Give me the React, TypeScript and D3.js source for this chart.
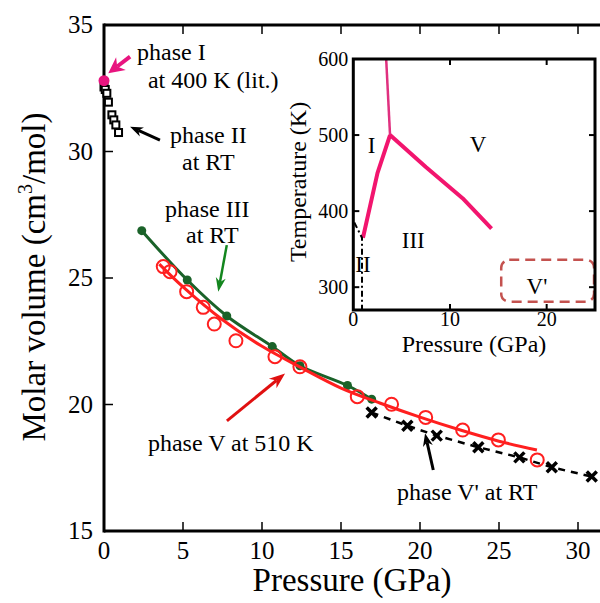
import React from "react";
import * as d3 from "d3";

// phase I (literature, 400 K)
const pressureI = [0];
const volumeI = [32.8];

// phase II at RT
const pressureII = [0.0, 0.08, 0.18, 0.28, 0.5, 0.62, 0.75, 0.92];
const volumeII = [32.55, 32.45, 32.3, 31.95, 31.45, 31.25, 31.05, 30.75];

// phase III at RT
const pressureIII = [2.39, 5.27, 7.77, 10.65, 12.4, 15.41, 16.94];
const volumeIII = [26.87, 24.92, 23.5, 22.29, 21.53, 20.75, 20.21];

// phase V at 510 K (measured + fit)
const pressureV = [3.75, 4.18, 5.23, 6.28, 6.98, 8.35, 10.82, 12.4, 16.03, 18.2, 20.36, 22.7, 24.96, 27.42];
const volumeV = [25.45, 25.25, 24.46, 23.84, 23.18, 22.52, 21.89, 21.49, 20.31, 20.01, 19.49, 18.99, 18.6, 17.81];
const pressureVFit = [3.5, 5, 7.5, 10, 12.5, 15, 17.5, 20, 22.5, 25, 27.4];
const volumeVFit = [25.55, 24.65, 23.35, 22.3, 21.45, 20.65, 20.05, 19.5, 19.0, 18.55, 18.2];

// phase V' at RT
const pressureVp = [16.94, 19.2, 21.06, 23.69, 26.29, 28.34, 30.87];
const volumeVp = [19.68, 19.16, 18.77, 18.31, 17.91, 17.52, 17.15];

const xTicks = [0, 5, 10, 15, 20, 25, 30];
const yTicks = [15, 20, 25, 30, 35];

// inset phase diagram
const insetXTicks = [0, 10, 20];
const insetYTicks = [300, 400, 500, 600];
const boundaryTopP = [3.4, 3.8];
const boundaryTopT = [600, 500];
const boundaryI_IIIP = [1.0, 2.5, 3.8];
const boundaryI_IIIT = [365, 450, 500];
const boundaryV_IIIP = [3.8, 7.5, 11.3, 14.3];
const boundaryV_IIIT = [500, 458, 417, 377];
const boundaryIIP = [0.1, 0.9, 0.9];
const boundaryIIT = [385, 365, 270];
const vPrimeBoxP = [15.3, 24.9];
const vPrimeBoxT = [281, 336];
const regionNames = ["I", "V", "III", "II", "V'"];
const regionP = [1.9, 12.9, 6.2, 1.0, 19.0];
const regionT = [486, 487, 362, 330, 301];

const FONT = "'Liberation Serif', 'DejaVu Serif', serif";

const zip = (a: number[], b: number[]) => a.map((v, i) => [v, b[i]] as [number, number]);

function Arrow({ x1, y1, x2, y2, color, width = 2.5, head = 14, half = 5 }: any) {
  const ang = Math.atan2(y2 - y1, x2 - x1);
  const ux = Math.cos(ang), uy = Math.sin(ang);
  const bx = x2 - ux * head, by = y2 - uy * head;
  const nx = x2 - ux * head * 0.7, ny = y2 - uy * head * 0.7;
  const p1 = [bx - uy * half, by + ux * half];
  const p2 = [bx + uy * half, by - ux * half];
  return (
    <g>
      <line x1={x1} y1={y1} x2={nx} y2={ny} stroke={color} strokeWidth={width} />
      <path d={`M${x2},${y2}L${p1[0]},${p1[1]}L${nx},${ny}L${p2[0]},${p2[1]}Z`} fill={color} />
    </g>
  );
}

export default function App() {
  const x = d3.scaleLinear().domain([0, 31.5]).range([104, 601.7]);
  const y = d3.scaleLinear().domain([15, 35]).range([531, 25]);

  const xi = d3.scaleLinear().domain([0, 25]).range([353.3, 595]);
  const yi = d3.scaleLinear().domain([270, 600]).range([310, 59]);

  const line = d3.line<[number, number]>().x(d => x(d[0])).y(d => y(d[1]));
  const smooth = d3.line<[number, number]>().x(d => x(d[0])).y(d => y(d[1])).curve(d3.curveCatmullRom);
  const insetLine = d3.line<[number, number]>().x(d => xi(d[0])).y(d => yi(d[1]));

  const green = "#1a6229";
  const red = "#ff1f1f";
  const pink = "#f2156e";

  const texts: [string, number, number][] = [
    ["phase I", 2.09, 33.62],
    ["at 400 K (lit.)", 2.78, 32.51],
    ["phase II", 4.18, 30.34],
    ["at RT", 4.94, 29.27],
    ["phase III", 3.86, 27.41],
    ["at RT", 5.19, 26.38],
    ["phase V at 510 K", 2.78, 18.16],
    ["phase V' at RT", 18.54, 16.23],
  ];

  return (
    <svg width={600} height={603} style={{ position: "absolute", left: 0, top: 0, background: "#fff" }} fontFamily={FONT}>
      {/* main frame */}
      <g stroke="#000" fill="none">
        <line x1={x(0)} y1={y(35)} x2={600} y2={y(35)} strokeWidth={3} />
        <line x1={x(0)} y1={y(15)} x2={600} y2={y(15)} strokeWidth={3} />
        <line x1={x(0)} y1={y(15) + 1.5} x2={x(0)} y2={y(35) - 1.5} strokeWidth={3} />
        {xTicks.filter(t => t > 0).map(t => (
          <g key={t}>
            <line x1={x(t)} x2={x(t)} y1={y(15)} y2={y(15) - 9} strokeWidth={1.5} />
            <line x1={x(t)} x2={x(t)} y1={y(35)} y2={y(35) + 9} strokeWidth={1.5} />
          </g>
        ))}
        {yTicks.filter(t => t > 15 && t < 35).map(t => (
          <line key={t} x1={x(0)} x2={x(0) + 9} y1={y(t)} y2={y(t)} strokeWidth={1.5} />
        ))}
      </g>
      <g fontSize={25} fill="#000">
        {xTicks.map(t => (
          <text key={t} x={x(t)} y={y(15) + 28} textAnchor="middle">{t}</text>
        ))}
        {yTicks.map(t => (
          <text key={t} x={x(0) - 11} y={y(t) + 8} textAnchor="end">{t}</text>
        ))}
      </g>
      <text x={352} y={591} fontSize={33} textAnchor="middle">Pressure (GPa)</text>
      <text transform={`translate(45,${277}) rotate(-90)`} fontSize={33} textAnchor="middle">
        Molar volume (cm<tspan fontSize={20} dy={-13}>3</tspan><tspan dy={13}>/mol)</tspan>
      </text>

      {/* phase III */}
      <path d={smooth(zip(pressureIII, volumeIII)) || ""} fill="none" stroke={green} strokeWidth={3} />
      {zip(pressureIII, volumeIII).map((d, i) => (
        <circle key={i} cx={x(d[0])} cy={y(d[1])} r={4.5} fill={green} />
      ))}

      {/* phase V */}
      <path d={smooth(zip(pressureVFit, volumeVFit)) || ""} fill="none" stroke={red} strokeWidth={3} />
      {zip(pressureV, volumeV).map((d, i) => (
        <circle key={i} cx={x(d[0])} cy={y(d[1])} r={6.5} fill="none" stroke={red} strokeWidth={2} />
      ))}

      {/* phase V' */}
      <path d={line(zip(pressureVp, volumeVp)) || ""} fill="none" stroke="#000" strokeWidth={2.5} strokeDasharray="7,6" />
      {zip(pressureVp, volumeVp).map((d, i) => (
        <path key={i} d="M-5,-5L5,5M-5,5L5,-5" transform={`translate(${x(d[0])},${y(d[1])})`} stroke="#000" strokeWidth={3.5} />
      ))}

      {/* phase II */}
      {zip(pressureII, volumeII).map((d, i) => (
        <rect key={i} x={x(d[0]) - 3.5} y={y(d[1]) - 3.5} width={7} height={7} fill="#fff" stroke="#000" strokeWidth={2} />
      ))}

      {/* phase I */}
      {zip(pressureI, volumeI).map((d, i) => (
        <circle key={i} cx={x(d[0])} cy={y(d[1])} r={5.5} fill="#e8147f" />
      ))}

      {/* annotations */}
      <Arrow x1={x(1.65)} y1={y(33.75)} x2={x(0.27)} y2={y(33.09)} color="#e8147f" width={4} head={16} half={8} />
      <Arrow x1={x(3.54)} y1={y(30.45)} x2={x(1.65)} y2={y(30.98)} color="#000" width={3} head={13} half={5} />
      <Arrow x1={x(7.77)} y1={y(26.3)} x2={x(7.23)} y2={y(24.46)} color="#13861e" width={2.5} head={14} half={5} />
      <Arrow x1={x(7.78)} y1={y(19.35)} x2={x(11.46)} y2={y(21.23)} color="#e01010" width={3} head={16} half={6} />
      <Arrow x1={x(20.84)} y1={y(17.41)} x2={x(20.32)} y2={y(18.86)} color="#000" width={3} head={13} half={5} />
      <g fontSize={24}>
        {texts.map((t, i) => (
          <text key={i} x={x(t[1])} y={y(t[2])}>{t[0]}</text>
        ))}
      </g>

      {/* inset */}
      <g>
        <rect x={xi(0)} y={yi(600)} width={xi(25) - xi(0)} height={yi(270) - yi(600)} fill="#fff" />
        <path d={insetLine(zip(boundaryTopP, boundaryTopT)) || ""} fill="none" stroke="#e0307f" strokeWidth={2.5} />
        <path d={insetLine(zip(boundaryI_IIIP, boundaryI_IIIT)) || ""} fill="none" stroke={pink} strokeWidth={4} strokeLinejoin="round" />
        <path d={insetLine(zip(boundaryV_IIIP, boundaryV_IIIT)) || ""} fill="none" stroke={pink} strokeWidth={4} strokeLinejoin="round" />
        <path d={insetLine(zip(boundaryIIP, boundaryIIT)) || ""} fill="none" stroke="#000" strokeWidth={2} strokeDasharray="6,3,2,3" />
        <rect x={xi(vPrimeBoxP[0])} y={yi(vPrimeBoxT[1])} width={xi(vPrimeBoxP[1]) - xi(vPrimeBoxP[0])} height={yi(vPrimeBoxT[0]) - yi(vPrimeBoxT[1])} rx={8} fill="none" stroke="#c4524f" strokeWidth={2.5} strokeDasharray="10,6" />
        <g stroke="#000" fill="none">
          <rect x={xi(0)} y={yi(600)} width={xi(25) - xi(0)} height={yi(270) - yi(600)} strokeWidth={3} />
          {insetXTicks.filter(t => t > 0).map(t => (
            <g key={t}>
              <line x1={xi(t)} x2={xi(t)} y1={yi(270)} y2={yi(270) - 6} strokeWidth={2} />
              <line x1={xi(t)} x2={xi(t)} y1={yi(600)} y2={yi(600) + 6} strokeWidth={2} />
            </g>
          ))}
          {insetYTicks.filter(t => t < 600).map(t => (
            <g key={t}>
              <line x1={xi(0)} x2={xi(0) + 6} y1={yi(t)} y2={yi(t)} strokeWidth={2} />
              <line x1={xi(25)} x2={xi(25) - 6} y1={yi(t)} y2={yi(t)} strokeWidth={2} />
            </g>
          ))}
        </g>
        <g fontSize={20}>
          {insetXTicks.map(t => (
            <text key={t} x={xi(t)} y={yi(270) + 16} textAnchor="middle">{t}</text>
          ))}
          {insetYTicks.map(t => (
            <text key={t} x={xi(0) - 5} y={yi(t) + 7} textAnchor="end">{t}</text>
          ))}
        </g>
        <text x={474} y={352} fontSize={24} textAnchor="middle">Pressure (GPa)</text>
        <text transform={`translate(306,182) rotate(-90)`} fontSize={24} textAnchor="middle">Temperature (K)</text>
        <g fontSize={23}>
          {regionNames.map((n, i) => (
            <text key={n} x={xi(regionP[i])} y={yi(regionT[i])} textAnchor="middle" dominantBaseline="central">{n}</text>
          ))}
        </g>
      </g>
    </svg>
  );
}
